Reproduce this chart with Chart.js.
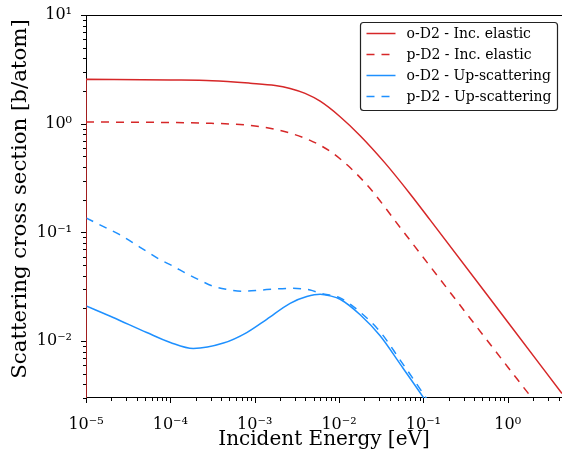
<!DOCTYPE html>
<html>
<head>
<meta charset="utf-8">
<script src="https://cdn.jsdelivr.net/npm/chart.js@4/dist/chart.umd.min.js"></script>
<style>
  html, body { margin: 0; padding: 0; background: #fff; overflow: hidden; }
</style>
</head>
<body>
<canvas id="xs" width="562" height="449"></canvas>
<script>
// Incoherent elastic cross sections of ortho / para D2 [eV, b/atom]
const orthoElasticE = [1e-5, 1e-5, 1e-4, 3.13e-4, 8.82e-4, 1.75e-3, 2.63e-3, 3.96e-3, 5.97e-3, 1.03e-2, 1.78e-2, 3.52e-2, 6.97e-2, 0.12, 1, 4.4];
const orthoElastic  = [1e-6, 2.57, 2.53, 2.49, 2.36, 2.25, 2.11, 1.9, 1.61, 1.16, 0.776, 0.434, 0.226, 0.1305, 0.015, 0.0033];
const paraElasticE  = [1e-5, 1e-4, 2.25e-4, 8.82e-4, 2.0e-3, 4.54e-3, 7.84e-3, 1.35e-2, 2.34e-2, 5.31e-2, 1, 2];
const paraElastic   = [1.037, 1.026, 1.015, 0.965, 0.868, 0.703, 0.557, 0.395, 0.253, 0.111, 0.00579, 0.0029];

// Up-scattering cross sections
const orthoUpE = [1e-5, 2.1e-5, 5.25e-5, 1e-4, 1.87e-4, 4.26e-4, 8.05e-4, 1.39e-3, 2.63e-3, 4.15e-3, 5.97e-3, 7.83e-3, 1.03e-2, 1.78e-2, 3.07e-2, 5.31e-2, 9.93e-2, 0.2];
const orthoUp  = [0.0211, 0.0165, 0.012, 0.00973, 0.00857, 0.0096, 0.012, 0.0159, 0.0223, 0.0257, 0.027, 0.0261, 0.0243, 0.0175, 0.0112, 0.00615, 0.00306, 0.00135];
const paraUpE  = [1e-5, 1.73e-5, 2.48e-5, 3.58e-5, 5.15e-5, 7.41e-5, 1.07e-4, 1.53e-4, 2.21e-4, 3.18e-4, 4.58e-4, 7.23e-4, 1.25e-3, 2.63e-3, 4.54e-3, 5.97e-3, 1.03e-2, 1.78e-2, 3.07e-2, 5.31e-2, 9.93e-2, 0.2];
const paraUp   = [0.136, 0.11, 0.0959, 0.0805, 0.0674, 0.0566, 0.0491, 0.0421, 0.0365, 0.0321, 0.03, 0.0288, 0.0296, 0.0306, 0.0296, 0.0276, 0.025, 0.0185, 0.0122, 0.0067, 0.0033, 0.00145];

const seriesLabels = ['o-D2 - Inc. elastic', 'p-D2 - Inc. elastic', 'o-D2 - Up-scattering', 'p-D2 - Up-scattering'];

const RED = '#d62728';
const BLUE = '#1e90ff';
const DASH = [8, 7];
const SERIF = "'DejaVu Serif', serif";

const pts = (xs, ys) => xs.map((x, i) => ({ x: x, y: ys[i] }));

function line(label, xs, ys, color, dash) {
    return {
        label: label,
        data: pts(xs, ys),
        showLine: true,
        borderColor: color,
        backgroundColor: color,
        borderWidth: 1.5,
        borderDash: dash,
        pointRadius: 0,
        cubicInterpolationMode: 'monotone',
        fill: false
    };
}

const SUP = { '-': '\u207b', '0': '\u2070', '1': '\u00b9', '2': '\u00b2', '3': '\u00b3', '4': '\u2074', '5': '\u2075' };
function decadeLabel(v) {
    const e = Math.log10(v);
    if (Math.abs(e - Math.round(e)) > 1e-6) return '';
    return '10' + String(Math.round(e)).split('').map(c => SUP[c]).join('');
}

// spines and matplotlib-like outward ticks, under the curves
const frame = {
    id: 'frame',
    beforeDatasetsDraw(chart) {
        const { ctx, chartArea: a, scales } = chart;
        ctx.save();
        ctx.strokeStyle = '#000';
        ctx.lineWidth = 1;
        ctx.beginPath();
        ctx.moveTo(a.left, a.top + 0.5); ctx.lineTo(a.right, a.top + 0.5);
        ctx.moveTo(a.left + 0.5, a.top); ctx.lineTo(a.left + 0.5, a.bottom);
        ctx.moveTo(a.left, a.bottom - 0.5); ctx.lineTo(a.right, a.bottom - 0.5);

        for (let d = -5; d <= 0; d++) {
            for (let k = 1; k <= 9; k++) {
                const v = k * Math.pow(10, d);
                if (v < scales.x.min || v > scales.x.max) continue;
                const px = Math.round(scales.x.getPixelForValue(v)) + 0.5;
                const len = k === 1 ? 5 : 3;
                ctx.moveTo(px, a.bottom); ctx.lineTo(px, a.bottom + len);
            }
        }
        for (let d = -3; d <= 1; d++) {
            for (let k = 1; k <= 9; k++) {
                const v = k * Math.pow(10, d);
                if (v < scales.y.min || v > scales.y.max) continue;
                const py = Math.round(scales.y.getPixelForValue(v)) + 0.5;
                const len = k === 1 ? 5 : 3;
                ctx.moveTo(a.left, py); ctx.lineTo(a.left - len, py);
            }
        }
        ctx.stroke();

        // y axis title, drawn a little above the axis centre
        const yt = scales.y.options.title;
        ctx.translate(20, 199);
        ctx.rotate(-Math.PI / 2);
        ctx.font = '21.3px ' + SERIF;
        ctx.fillStyle = '#000';
        ctx.textAlign = 'center';
        ctx.textBaseline = 'middle';
        ctx.fillText(yt.text, 0, 0);
        ctx.restore();
    }
};

// boxed legend in the upper right corner
const boxLegend = {
    id: 'boxLegend',
    afterDraw(chart) {
        const { ctx, chartArea: a } = chart;
        const w = 197, h = 88;
        const x0 = a.right - 201.5, y0 = a.top + 7.5;
        ctx.save();
        ctx.beginPath();
        ctx.roundRect(x0, y0, w, h, 3);
        ctx.fillStyle = '#fff';
        ctx.fill();
        ctx.strokeStyle = '#222';
        ctx.lineWidth = 1.2;
        ctx.stroke();
        ctx.font = '14px ' + SERIF;
        ctx.textBaseline = 'middle';
        chart.data.datasets.forEach((ds, i) => {
            const y = y0 + 11 + i * 21;
            ctx.strokeStyle = ds.borderColor;
            ctx.lineWidth = 1.5;
            ctx.setLineDash(ds.borderDash);
            ctx.beginPath();
            ctx.moveTo(x0 + 6, y); ctx.lineTo(x0 + 35, y);
            ctx.stroke();
            ctx.setLineDash([]);
            ctx.fillStyle = '#000';
            ctx.fillText(ds.label, x0 + 46, y + 1);
        });
        ctx.restore();
    }
};

new Chart(document.getElementById('xs'), {
    type: 'scatter',
    data: {
        datasets: [
            line(seriesLabels[0], orthoElasticE, orthoElastic, RED, []),
            line(seriesLabels[1], paraElasticE, paraElastic, RED, DASH),
            line(seriesLabels[2], orthoUpE, orthoUp, BLUE, []),
            line(seriesLabels[3], paraUpE, paraUp, BLUE, DASH)
        ]
    },
    options: {
        responsive: false,
        animation: false,
        devicePixelRatio: 1,
        layout: { padding: { top: 15, left: 0, right: 0, bottom: 0 } },
        plugins: { legend: { display: false }, tooltip: { enabled: false } },
        scales: {
            x: {
                type: 'logarithmic',
                min: 1e-5,
                max: 4.4,
                grid: { display: false },
                border: { display: false },
                ticks: {
                    autoSkip: false, maxRotation: 0, padding: 9, color: '#000',
                    font: { family: SERIF, size: 16 },
                    callback: v => decadeLabel(v)
                },
                title: {
                    display: true, text: 'Incident Energy [eV]', color: '#000',
                    font: { family: SERIF, size: 20, lineHeight: 1 },
                    padding: { top: 0, bottom: -1 }
                },
                afterFit: s => { s.height = 51; s.paddingLeft = 0; s.paddingRight = 0; }
            },
            y: {
                type: 'logarithmic',
                min: 0.003,
                max: 10,
                grid: { display: false },
                border: { display: false },
                ticks: {
                    autoSkip: false, padding: 6, color: '#000',
                    font: { family: SERIF, size: 16 },
                    callback: v => decadeLabel(v)
                },
                title: { display: false, text: 'Scattering cross section [b/atom]' },
                afterFit: s => { s.width = 86; s.paddingTop = 0; s.paddingBottom = 0; }
            }
        }
    },
    plugins: [frame, boxLegend]
});
</script>
</body>
</html>
